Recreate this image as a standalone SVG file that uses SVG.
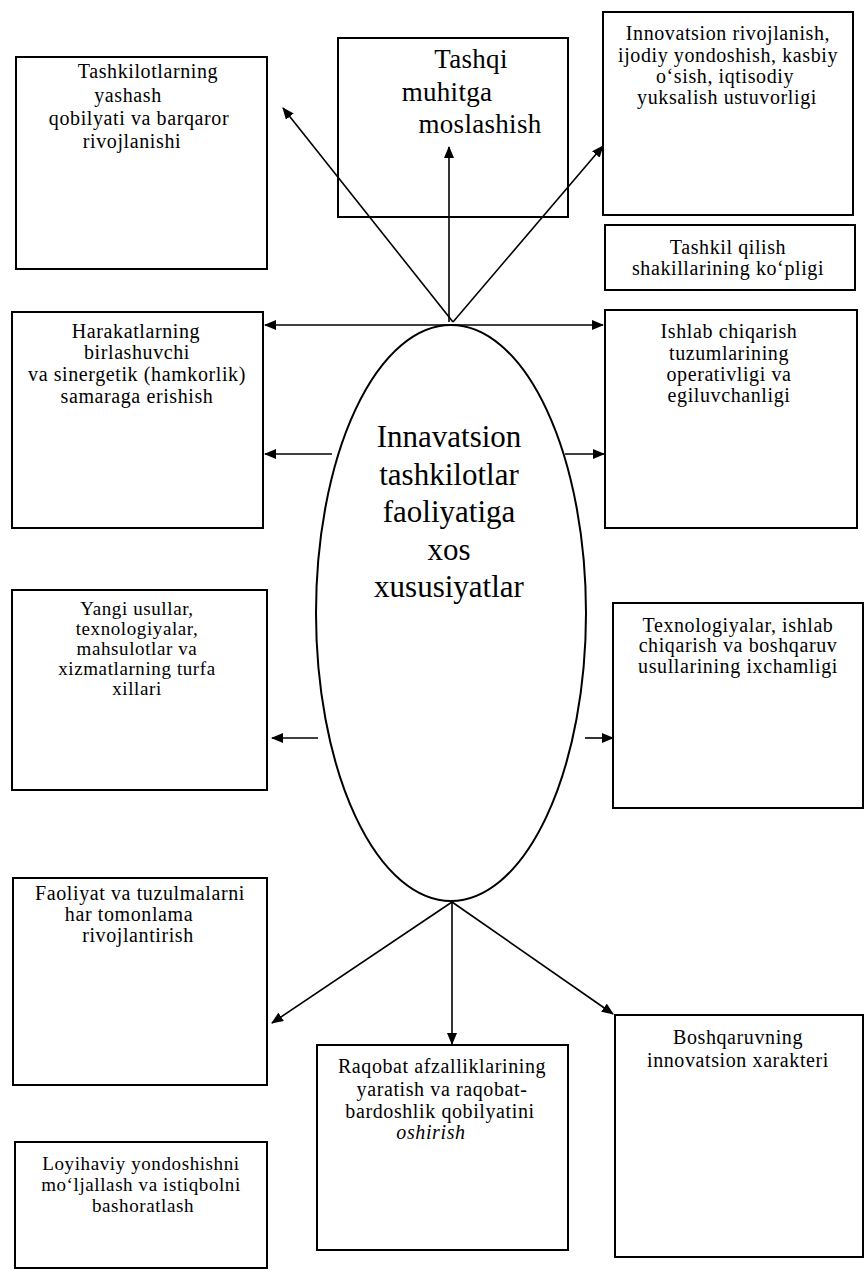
<svg xmlns="http://www.w3.org/2000/svg" width="864" height="1273" viewBox="0 0 864 1273">
<defs>
<marker id="ah" markerWidth="12" markerHeight="10" refX="11" refY="5" orient="auto" markerUnits="userSpaceOnUse">
<path d="M0,0 L12,5 L0,10 Z" fill="#000"/>
</marker>
<marker id="ahs" markerWidth="12" markerHeight="10" refX="1" refY="5" orient="auto" markerUnits="userSpaceOnUse">
<path d="M12,0 L0,5 L12,10 Z" fill="#000"/>
</marker>
<style>
.box{fill:none;stroke:#000;stroke-width:2}
.t{font-family:"Liberation Serif","Times New Roman",serif;font-size:20px;fill:#000;text-anchor:middle;letter-spacing:0.6px}
.s{font-size:19px}
.big{font-size:27px;letter-spacing:0.3px}
.ctr{font-size:31px;letter-spacing:0}
.c{stroke:#000;stroke-width:1.6;fill:none}
</style>
</defs>
<rect width="864" height="1273" fill="#fff"/>

<g id="connectors">
<line class="c" x1="453" y1="322" x2="283" y2="108" marker-end="url(#ah)"/>
<line class="c" x1="449" y1="322" x2="449" y2="147" marker-end="url(#ah)"/>
<line class="c" x1="453" y1="322" x2="603" y2="146" marker-end="url(#ah)"/>
<line class="c" x1="265" y1="325" x2="603" y2="325" marker-start="url(#ahs)" marker-end="url(#ah)"/>
<line class="c" x1="332" y1="454" x2="265" y2="454" marker-end="url(#ah)"/>
<line class="c" x1="565" y1="454" x2="604" y2="454" marker-end="url(#ah)"/>
<line class="c" x1="318" y1="738" x2="272" y2="738" marker-end="url(#ah)"/>
<line class="c" x1="585" y1="738" x2="613" y2="738" marker-end="url(#ah)"/>
<line class="c" x1="452" y1="902" x2="272" y2="1023" marker-end="url(#ah)"/>
<line class="c" x1="452" y1="902" x2="452" y2="1044" marker-end="url(#ah)"/>
<line class="c" x1="452" y1="902" x2="613" y2="1014" marker-end="url(#ah)"/>
</g>

<g id="center">
<ellipse cx="451" cy="613" rx="135" ry="288" fill="none" stroke="#000" stroke-width="2"/>
<text class="t ctr" x="449" y="447">Innavatsion</text>
<text class="t ctr" x="449" y="485">tashkilotlar</text>
<text class="t ctr" x="449" y="522">faoliyatiga</text>
<text class="t ctr" x="449" y="560">xos</text>
<text class="t ctr" x="449" y="597">xususiyatlar</text>
</g>

<g id="n1">
<rect class="box" x="16" y="57" width="251" height="212"/>
<text class="t" x="148" y="78">Tashkilotlarning</text>
<text class="t" x="128" y="102">yashash</text>
<text class="t" x="139" y="125">qobilyati va barqaror</text>
<text class="t" x="132" y="148">rivojlanishi</text>
</g>

<g id="n2">
<rect class="box" x="338" y="38" width="230" height="179"/>
<text class="t big" x="471" y="68">Tashqi</text>
<text class="t big" x="447" y="101">muhitga</text>
<text class="t big" x="480" y="133">moslashish</text>
</g>

<g id="n3">
<rect class="box" x="603" y="12" width="250" height="203"/>
<text class="t" x="728" y="40">Innovatsion rivojlanish,</text>
<text class="t" x="728" y="62">ijodiy yondoshish, kasbiy</text>
<text class="t" x="725" y="83">o‘sish, iqtisodiy</text>
<text class="t" x="727" y="104">yuksalish ustuvorligi</text>
</g>

<g id="n4">
<rect class="box" x="605" y="225" width="250" height="65"/>
<text class="t" x="728" y="254">Tashkil qilish</text>
<text class="t" x="728" y="275">shakillarining ko‘pligi</text>
</g>

<g id="n5">
<rect class="box" x="12" y="312" width="251" height="216"/>
<text class="t" x="136" y="338">Harakatlarning</text>
<text class="t" x="137" y="359">birlashuvchi</text>
<text class="t" x="137" y="381">va sinergetik (hamkorlik)</text>
<text class="t" x="137" y="403">samaraga erishish</text>
</g>

<g id="n6">
<rect class="box" x="605" y="310" width="252" height="218"/>
<text class="t" x="729" y="338">Ishlab chiqarish</text>
<text class="t" x="729" y="360">tuzumlarining</text>
<text class="t" x="729" y="381">operativligi va</text>
<text class="t" x="729" y="402">egiluvchanligi</text>
</g>

<g id="n7">
<rect class="box" x="12" y="590" width="255" height="200"/>
<text class="t s" x="137" y="615">Yangi usullar,</text>
<text class="t s" x="137" y="635">texnologiyalar,</text>
<text class="t s" x="137" y="655">mahsulotlar va</text>
<text class="t s" x="137" y="675">xizmatlarning turfa</text>
<text class="t s" x="137" y="695">xillari</text>
</g>

<g id="n8">
<rect class="box" x="613" y="603" width="250" height="205"/>
<text class="t" x="738" y="632">Texnologiyalar, ishlab</text>
<text class="t" x="738" y="652">chiqarish va boshqaruv</text>
<text class="t" x="738" y="673">usullarining ixchamligi</text>
</g>

<g id="n9">
<rect class="box" x="13" y="878" width="254" height="207"/>
<text class="t" x="140" y="900">Faoliyat va tuzulmalarni</text>
<text class="t" x="129" y="921">har tomonlama</text>
<text class="t" x="138" y="942">rivojlantirish</text>
</g>

<g id="n10">
<rect class="box" x="317" y="1045" width="251" height="205"/>
<text class="t" x="442" y="1073">Raqobat afzalliklarining</text>
<text class="t" x="442" y="1096">yaratish va raqobat-</text>
<text class="t" x="440" y="1118">bardoshlik qobilyatini</text>
<text class="t" x="431" y="1139" font-style="italic">oshirish</text>
</g>

<g id="n11">
<rect class="box" x="615" y="1015" width="248" height="242"/>
<text class="t" x="738" y="1044">Boshqaruvning</text>
<text class="t" x="738" y="1067">innovatsion xarakteri</text>
</g>

<g id="n12">
<rect class="box" x="15" y="1142" width="252" height="126"/>
<text class="t s" x="141" y="1170">Loyihaviy yondoshishni</text>
<text class="t s" x="141" y="1191">mo‘ljallash va istiqbolni</text>
<text class="t s" x="143" y="1212">bashoratlash</text>
</g>
</svg>
